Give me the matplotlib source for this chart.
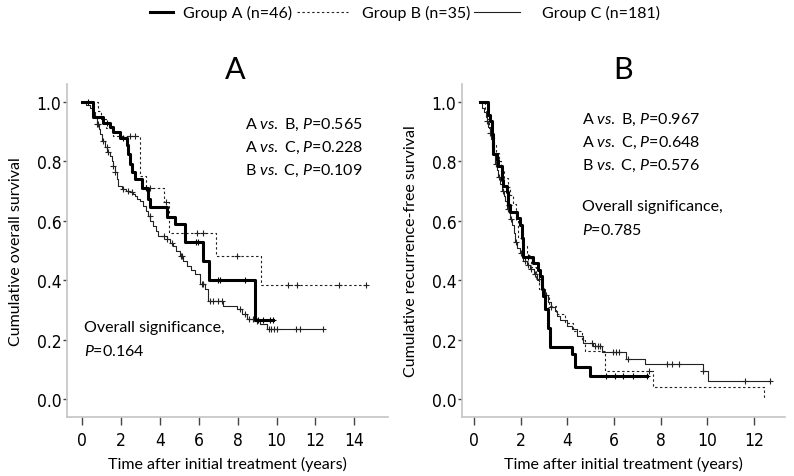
import matplotlib

matplotlib.use("Agg")
import matplotlib.pyplot as plt
from matplotlib.lines import Line2D
import numpy as np

plt.rcParams["font.family"] = ["Lato", "DejaVu Sans"]
plt.rcParams["mathtext.fontset"] = "custom"
plt.rcParams["mathtext.rm"] = "Lato"
plt.rcParams["mathtext.it"] = "Lato:italic"

# ---- Panel A: overall survival (time in years, survival fraction) ----
A_OS_t = [0, 0.56, 1.08, 1.44, 1.6, 1.95, 2.3, 2.37, 2.47, 2.57,
          2.72, 3.08, 3.4, 3.5, 4.37, 4.78, 5.3, 6.22, 6.55, 8.9]
A_OS_s = [1.0, .95, .93, .915, .90, .88, .855, .825, .79, .765,
          .74, .71, .675, .645, .613, .59, .53, .465, .40, .265]
A_OS_end = 9.8
A_OS_cens = [0.3, 1.3, 2.1, 3.3, 5.85, 5.95, 7.0, 7.1, 8.4, 9.05, 9.3, 9.65, 9.8]

B_OS_t = [0, 0.82, 1.0, 1.25, 1.6, 2.98, 3.3, 4.2, 4.45, 6.9, 9.2]
B_OS_s = [1.0, .971, .943, .914, .886, .75, .71, .665, .56, .48, .385]
B_OS_end = 14.6
B_OS_cens = [2.47, 2.72, 3.5, 4.3, 5.9, 6.2, 7.95, 10.6, 11.05, 13.2, 14.6]

C_OS_t = [0, 0.22, 0.4, 0.5, 0.57, 0.67, 0.77, 0.85, 0.93, 1.05,
          1.18, 1.3, 1.44, 1.52, 1.6, 1.7, 1.78, 1.85, 2.06, 2.25,
          2.47, 2.6, 2.72, 2.85, 2.98, 3.13, 3.27, 3.4, 3.52, 3.65,
          3.78, 3.9, 4.37, 4.52, 4.68, 4.85, 5.04, 5.2, 5.4, 5.6,
          5.8, 6.07, 6.32, 6.5, 7.25, 7.97, 8.2, 8.5, 8.9, 9.15,
          9.5]
C_OS_s = [1.0, .99, .98, .973, .966, .945, .926, .91, .892, .87,
          .848, .832, .818, .80, .785, .764, .74, .717, .707, .70,
          .697, .69, .684, .675, .667, .65, .633, .616, .60, .582,
          .565, .549, .539, .527, .515, .498, .481, .465, .448, .434,
          .42, .387, .37, .33, .313, .303, .286, .27, .263, .253,
          .236]
C_OS_end = 12.4
C_OS_cens = [0.77, 0.82, 1.08, 1.28, 1.34, 1.6, 1.7, 2.1, 2.37, 2.57, 3.5, 4.2, 4.37,
             4.6, 5.1, 5.15, 6.15, 6.2, 6.6, 6.75, 7.0, 7.2, 8.1, 8.4, 8.6, 8.8, 9.0,
             9.6, 9.7, 9.85, 10.0, 11.0, 11.2, 12.4]

# ---- Panel B: recurrence-free survival ----
A_RFS_t = [0.25, 0.6, 0.7, 0.77, 0.81, 0.99, 1.03, 1.2, 1.24, 1.41,
           1.46, 1.54, 1.84, 1.97, 2.06, 2.1, 2.53, 2.74, 2.83, 2.9,
           2.96, 3.04, 3.17, 3.26, 4.2, 4.33, 4.97]
A_RFS_s = [1.0, .957, .935, .891, .826, .804, .783, .739, .717, .696,
           .652, .630, .609, .587, .543, .478, .457, .435, .413, .37,
           .348, .304, .239, .174, .152, .109, .076]
A_RFS_end = 7.4
A_RFS_cens = [1.5, 2.3, 5.65, 6.05, 6.4, 6.8, 7.4]

B_RFS_t = [0.25, 0.45, 0.55, 0.65, 0.75, 0.85, 0.95, 1.05, 1.15, 1.3,
           1.45, 1.55, 1.65, 1.8, 1.9, 2.05, 2.25, 2.45, 2.65, 2.8,
           3.0, 3.2, 3.5, 3.9, 4.25, 4.63, 4.75, 5.6, 7.65, 12.45]
B_RFS_s = [1.0, .971, .943, .914, .886, .857, .829, .80, .771, .743,
           .714, .686, .657, .60, .543, .514, .486, .443, .40, .371,
           .343, .314, .286, .257, .229, .20, .16, .094, .04, 0.0]
B_RFS_end = 12.45
B_RFS_cens = [7.5]

C_RFS_t = [0.25, 0.35, 0.42, 0.5, 0.55, 0.6, 0.67, 0.72, 0.77, 0.84,
           0.9, 0.97, 1.03, 1.1, 1.2, 1.27, 1.33, 1.42, 1.54, 1.62,
           1.7, 1.76, 1.85, 1.95, 2.1, 2.25, 2.4, 2.55, 2.7, 2.85,
           2.96, 3.06, 3.17, 3.3, 3.45, 3.56, 3.7, 4.0, 4.2, 4.4,
           4.67, 5.1, 5.5, 6.5, 7.33, 9.8, 10.03]
C_RFS_s = [1.0, .98, .965, .95, .935, .915, .895, .875, .85, .82,
           .79, .77, .747, .725, .70, .685, .667, .64, .606, .585,
           .56, .53, .51, .49, .465, .45, .438, .42, .404, .385,
           .37, .35, .327, .31, .295, .28, .265, .246, .236, .212,
           .19, .178, .158, .135, .118, .094, .06]
C_RFS_end = 12.7
C_RFS_cens = [0.55, 0.7, 0.95, 1.05, 1.25, 1.45, 1.6, 1.8, 2.0, 2.2, 2.3, 2.45, 2.6,
              2.8, 3.1, 3.3, 5.05, 5.2, 5.3, 5.4, 5.95, 6.1, 6.2, 6.6, 8.27, 8.5,
              8.8, 9.8, 11.6, 12.7]

LEGEND_LABELS = ["Group A (n=46)", "Group B (n=35)", "Group C (n=181)"]

STY_A = dict(color="black", lw=2.2, ls="-")
STY_B = dict(color="#222222", lw=0.8, ls=(0, (2.2, 2.2)))
STY_C = dict(color="#222222", lw=0.8, ls="-")
SPINE = "#c4c4c4"


def km(ax, t, s, end, cens, sty):
    t = np.asarray(t, float)
    s = np.asarray(s, float)
    ax.step(np.r_[t, end], np.r_[s, s[-1]], where="post", **sty)
    c = np.asarray(cens, float)
    cy = s[np.searchsorted(t, c, side="right") - 1]
    ax.plot(c, cy, "+", color=sty["color"], ms=5, mew=0.8, ls="none")


def frame(ax, xmax_tick, xlim, ylabel):
    ax.set_xlim(*xlim)
    ax.set_ylim(-0.0606, 1.0606)
    ax.set_xticks(np.arange(0, xmax_tick + 1, 2))
    ax.set_yticks(np.arange(0, 1.01, 0.2))
    ax.set_yticklabels([f"{v:.1f}" for v in np.arange(0, 1.01, 0.2)])
    for sp in ("top", "right"):
        ax.spines[sp].set_visible(False)
    for sp in ("left", "bottom"):
        ax.spines[sp].set_color(SPINE)
        ax.spines[sp].set_linewidth(1.2)
    ax.tick_params(axis="x", length=6, width=1, color="#444444", pad=4, labelsize=12.5)
    ax.tick_params(axis="y", length=3, width=1, color="#444444", pad=1, labelsize=12.5)
    for lab in ax.get_xticklabels() + ax.get_yticklabels():
        lab.set_family("DejaVu Sans")
        lab.set_fontstretch("condensed")
    ax.set_xlabel("Time after initial treatment (years)", fontsize=11.5, labelpad=5)
    ax.set_ylabel(ylabel, fontsize=11.5, labelpad=10)


fig = plt.figure(figsize=(7.94, 4.77), dpi=100)
axA = fig.add_axes([0.0844, 0.1237, 0.4043, 0.698])
axB = fig.add_axes([0.5819, 0.1237, 0.4068, 0.698])

km(axA, C_OS_t, C_OS_s, C_OS_end, C_OS_cens, STY_C)
km(axA, B_OS_t, B_OS_s, B_OS_end, B_OS_cens, STY_B)
km(axA, A_OS_t, A_OS_s, A_OS_end, A_OS_cens, STY_A)
frame(axA, 14, (-0.771, 15.73), "Cumulative overall survival")

km(axB, C_RFS_t, C_RFS_s, C_RFS_end, C_RFS_cens, STY_C)
km(axB, B_RFS_t, B_RFS_s, B_RFS_end, B_RFS_cens, STY_B)
km(axB, A_RFS_t, A_RFS_s, A_RFS_end, A_RFS_cens, STY_A)
frame(axB, 12, (-0.514, 13.33), "Cumulative recurrence-free survival")

# panel letters and statistics
axA.text(7.85, 1.11, "A", fontsize=22, ha="center", va="center", clip_on=False)
axB.text(6.4, 1.11, "B", fontsize=22, ha="center", va="center", clip_on=False)

txt = dict(fontsize=11.5, ha="left", va="center")
for y, s in zip((0.926, 0.848, 0.771),
                (r"A $\mathit{vs.}$ B, $\mathit{P}$=0.565",
                 r"A $\mathit{vs.}$ C, $\mathit{P}$=0.228",
                 r"B $\mathit{vs.}$ C, $\mathit{P}$=0.109")):
    axA.text(8.38, y, s, **txt)
axA.text(0.1, 0.242, "Overall significance,", **txt)
axA.text(0.1, 0.165, r"$\mathit{P}$=0.164", **txt)

for y, s in zip((0.943, 0.865, 0.788),
                (r"A $\mathit{vs.}$ B, $\mathit{P}$=0.967",
                 r"A $\mathit{vs.}$ C, $\mathit{P}$=0.648",
                 r"B $\mathit{vs.}$ C, $\mathit{P}$=0.576")):
    axB.text(4.63, y, s, **txt)
axB.text(4.63, 0.65, "Overall significance,", **txt)
axB.text(4.63, 0.572, r"$\mathit{P}$=0.785", **txt)

# legend row across the top
W, H = 794.0, 477.0
ly = 1 - 13 / H
for (x0, x1), sty, (tx, lab) in zip(((150, 173), (297, 348), (474, 520)),
                                     (STY_A, STY_B, STY_C),
                                     zip((183, 362, 542), LEGEND_LABELS)):
    fig.add_artist(Line2D([x0 / W, x1 / W], [ly, ly], transform=fig.transFigure, **sty))
    fig.text(tx / W, ly, lab, fontsize=11.5, ha="left", va="center")

fig.savefig("out.png", dpi=100)
